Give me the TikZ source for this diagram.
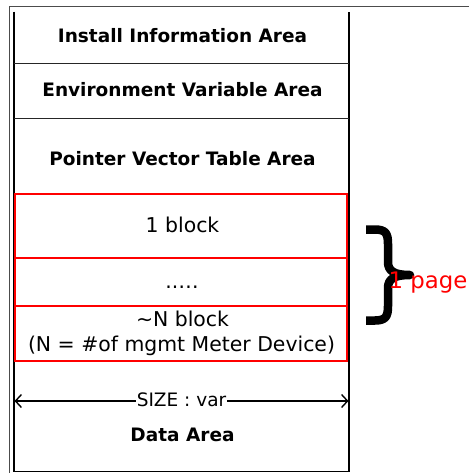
\documentclass[tikz,border=0pt]{standalone}
\usepackage{fontspec}
\setmainfont{DejaVu Sans}
\usetikzlibrary{arrows.meta}
\begin{document}
\begin{tikzpicture}[x=1pt,y=-1pt,
  area/.style={font=\bfseries\fontsize{18.5}{22}\selectfont, anchor=base, inner sep=0pt},
  reg/.style={font=\fontsize{20.4}{24}\selectfont, anchor=base, inner sep=0pt},
  blk/.style={draw=red, line width=2pt},
  divider/.style={line width=0.9pt, black!85},
  frame/.style={line width=1.3pt, black!70},
  inner/.style={line width=1.5pt, black}]
\useasboundingbox (0,0) rectangle (469,473);
% outer frame (top and left)
\draw[frame] (469,6.7) -- (9.8,6.7) -- (9.8,473);
% inner box
\draw[inner] (13.8,11.7) -- (13.8,471.7) -- (348.8,471.7) -- (348.8,11.7);
% dividers
\draw[divider] (13.8,63.3) -- (348.8,63.3);
\draw[divider] (13.8,118.3) -- (348.8,118.3);
% red blocks
\draw[blk] (14.5,194) rectangle (347,257.5);
\draw[blk] (14.5,257.5) rectangle (347,305.5);
\draw[blk] (14.5,305.5) rectangle (347,360.5);
% labels
\node[area] (inst) at (182.5,43) {Install Information Area};
\node[area] (env) at (182.5,96.5) {Environment Variable Area};
\node[area] (ptr) at (182.5,165) {Pointer Vector Table Area};
\node[reg] (b1) at (182.5,232.7) {1 block};
\node[reg] (dots) at (182,288.3) {..…};
\node[reg] (bn) at (182.5,326.8) {\textasciitilde N block};
\node[reg] (bnn) at (181.5,351.5) {(N = \#of mgmt Meter Device)};
% size arrow
\coordinate (szL) at (14.5,401);
\coordinate (szR) at (348.5,401);
\draw[line width=1.4pt, {Straight Barb[length=6pt,width=13pt]}-{Straight Barb[length=6pt,width=13pt]}] (szL) -- (szR);
\node[reg, font=\fontsize{18.5}{22}\selectfont, fill=white, inner xsep=1pt, inner ysep=1pt] (sz) at (181.5,406.5) {SIZE : var};
\node[area] (data) at (182.5,441) {Data Area};
% brace
\draw[line width=8.5pt, line join=round] (366,229.5) -- (375,229.5)
  .. controls (386,229.5) and (388,234) .. (388,244) -- (388,262)
  .. controls (388,271) and (394,275) .. (410,275)
  .. controls (394,275) and (388,279) .. (388,288) -- (388,306)
  .. controls (388,316) and (386,320.5) .. (375,320.5) -- (366,320.5);
\node[reg, font=\fontsize{22.8}{27}\selectfont, text=red, anchor=base west] (page) at (388.5,288) {1 page};
\end{tikzpicture}
\end{document}
